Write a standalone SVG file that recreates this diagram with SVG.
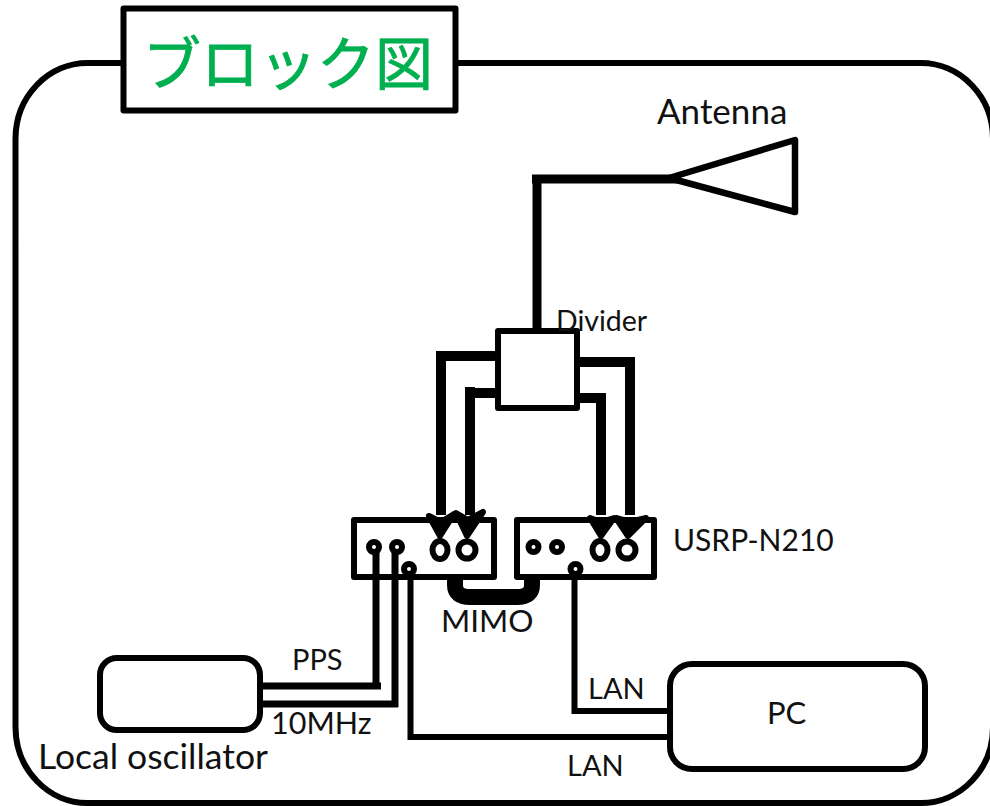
<svg xmlns="http://www.w3.org/2000/svg" width="990" height="806" viewBox="0 0 990 806">
<style>
.b{fill:#fff;stroke:#000;stroke-width:6;stroke-linejoin:round}
.o{fill:none;stroke:#000;stroke-width:6;stroke-linejoin:round}
.n{fill:none;stroke:#000;stroke-linejoin:miter}
.t{font-family:Lato,"Liberation Sans",sans-serif;fill:#111}
.p{fill:#fff;stroke:#000;stroke-width:6}
.a{fill:#000;stroke:#000;stroke-width:6;stroke-linejoin:round}
</style>
<rect width="990" height="806" fill="#fff"/>
<g id="frame"><rect x="15.500" y="63" width="977.500" height="740" rx="72" ry="76" fill="none" stroke="#000" stroke-width="6"/></g>
<g id="title"><rect class="b" x="123.500" y="8.500" width="332" height="102"/><text x="143" y="85" font-size="58" fill="#00b050" stroke="#00b050" stroke-width="0.800" font-family="'Noto Sans CJK JP',sans-serif">ブロック図</text></g>
<g id="connectors">
<path class="n" stroke-width="9" d="M680 179H532M537 179V332"/>
<path class="n" stroke-width="10" d="M498 356H441V515"/>
<path class="n" stroke-width="10" d="M498 393H470V387M470 393V515"/>
<path class="n" stroke-width="10" d="M578 362H630V515"/>
<path class="n" stroke-width="10" d="M578 398H601V515"/>
<path class="n" stroke-width="7" d="M262 686H381M376 689V552"/>
<path class="n" stroke-width="7" d="M262 704H398M395 707V552"/>
<path class="n" stroke-width="6" d="M410.500 572V737H670"/>
<path class="n" stroke-width="6" d="M574.500 572V711H670"/>
<path fill="none" stroke="#000" stroke-width="16" d="M455 578V585Q455 597 470 597H517Q532 597 532 585V578"/>
<path class="a" d="M429 516L441 522L454 514L440 536Z M456 513L468 520L483 512L467 536Z"/>
<path class="a" d="M590 518L601 522L614 518L601 536Z M616 518L630 522L646 518L628 536Z"/>
</g>
<g id="antenna"><path d="M669 178L795 140V212Z" fill="#fff" stroke="#000" stroke-width="6.500" stroke-linejoin="round"/><text class="t" x="657" y="124" font-size="35">Antenna</text></g>
<g id="divider"><rect class="b" x="498" y="331" width="79" height="77"/><text class="t" x="556" y="331" font-size="28.500">Divider</text></g>
<g id="usrp1"><rect class="o" x="354" y="520" width="140" height="57"/>
<circle class="p" cx="374" cy="547" r="5"/><circle class="p" cx="397" cy="547" r="5"/><circle class="p" cx="409" cy="569" r="5"/>
<ellipse cx="440" cy="550" rx="7.500" ry="9" fill="#fff" stroke="#000" stroke-width="6"/><circle cx="467" cy="550" r="8.500" fill="#fff" stroke="#000" stroke-width="6"/></g>
<g id="usrp2"><rect class="o" x="517" y="520" width="137" height="57"/>
<circle class="p" cx="533.500" cy="547" r="5"/><circle class="p" cx="557" cy="547" r="5"/><circle class="p" cx="575.500" cy="569" r="5"/>
<ellipse cx="600" cy="550" rx="7.500" ry="9" fill="#fff" stroke="#000" stroke-width="6"/><circle cx="627" cy="550" r="8.500" fill="#fff" stroke="#000" stroke-width="6"/>
<text class="t" x="673" y="551" font-size="30">USRP-N210</text></g>
<g id="mimo"><text class="t" x="441" y="632" font-size="31.500">MIMO</text></g>
<g id="osc"><rect class="b" x="100" y="658" width="160" height="72" rx="17"/><text class="t" x="38" y="769" font-size="35.500">Local oscillator</text></g>
<g id="pc"><rect class="b" x="670" y="664" width="255" height="105" rx="22"/><text class="t" x="767" y="724" font-size="31">PC</text></g>
<g id="labels"><text class="t" x="292" y="670" font-size="29">PPS</text><text class="t" x="271" y="734" font-size="30.500">10MHz</text><text class="t" x="588" y="699" font-size="29">LAN</text><text class="t" x="567" y="776" font-size="29">LAN</text></g>
</svg>
